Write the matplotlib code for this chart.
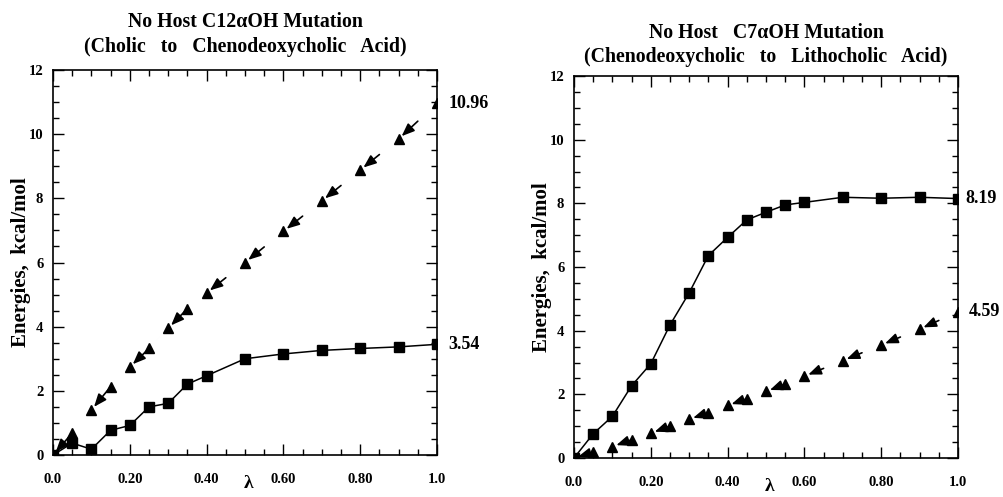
import numpy as np
import matplotlib.pyplot as plt
from matplotlib.ticker import MultipleLocator, FixedLocator

plt.rcParams['font.family'] = ['Liberation Serif', 'DejaVu Serif']
plt.rcParams['font.weight'] = 'bold'

# left panel: C12aOH mutation
lam_sq_left = [0.0, 0.05, 0.10, 0.15, 0.20, 0.25, 0.30, 0.35, 0.40, 0.50, 0.60, 0.70, 0.80, 0.90, 1.0]
sq_left = [0.0, 0.37, 0.18, 0.77, 0.92, 1.50, 1.61, 2.21, 2.47, 3.00, 3.15, 3.26, 3.32, 3.37, 3.45]
lam_tri_left = [0.0, 0.05, 0.10, 0.15, 0.20, 0.25, 0.30, 0.35, 0.40, 0.50, 0.60, 0.70, 0.80, 0.90, 1.0]
tri_left = [0.0, 0.68, 1.40, 2.13, 2.74, 3.32, 3.95, 4.56, 5.05, 6.00, 6.97, 7.92, 8.88, 9.85, 10.96]

# right panel: C7aOH mutation
lam_sq_right = [0.0, 0.05, 0.10, 0.15, 0.20, 0.25, 0.30, 0.35, 0.40, 0.45, 0.50, 0.55, 0.60, 0.70, 0.80, 0.90, 1.0]
sq_right = [0.0, 0.76, 1.31, 2.27, 2.96, 4.18, 5.19, 6.36, 6.93, 7.48, 7.72, 7.95, 8.03, 8.19, 8.16, 8.19, 8.15]
lam_tri_right = [0.0, 0.05, 0.10, 0.15, 0.20, 0.25, 0.30, 0.35, 0.40, 0.45, 0.50, 0.55, 0.60, 0.70, 0.80, 0.90, 1.0]
tri_right = [0.0, 0.18, 0.36, 0.57, 0.78, 1.00, 1.22, 1.42, 1.65, 1.86, 2.09, 2.32, 2.57, 3.06, 3.55, 4.05, 4.59]

titles = ["No Host C12\u03b1OH Mutation\n(Cholic   to   Chenodeoxycholic   Acid)",
          "No Host   C7\u03b1OH Mutation\n(Chenodeoxycholic   to   Lithocholic   Acid)"]
end_labels = [("10.96", "3.54"), ("4.59", "8.19")]

xtick_vals = [0.0, 0.2, 0.4, 0.6, 0.8, 1.0]
xtick_text = ["0.0", "0.20", "0.40", "0.60", "0.80", "1.0"]


def draw_arrows(ax, lam, vals):
    # dashed triangle curve: short arrows pointing back toward lower lambda
    for i in range(len(lam) - 1):
        x0, y0 = lam[i], vals[i]
        x1, y1 = lam[i + 1], vals[i + 1]
        step = x1 - x0
        if step < 0.075 and round(x0 / 0.05) % 2 == 1:
            continue
        frac = min(1.0, 0.05 / step)
        xs = x0 + frac * (x1 - x0)
        ys = y0 + frac * (y1 - y0)
        ax.annotate('', xy=(x0, y0), xytext=(xs, ys),
                    arrowprops=dict(arrowstyle='-|>,head_length=0.7,head_width=0.28',
                                    color='black', lw=1.2,
                                    mutation_scale=11, shrinkA=0, shrinkB=3))


fig = plt.figure(figsize=(10.04, 4.97), dpi=100)
ax1 = fig.add_axes([53 / 1004, 1 - 455 / 497, 384 / 1004, 385 / 497])
ax2 = fig.add_axes([574 / 1004, 1 - 458 / 497, 384 / 1004, 382 / 497])

data = [(ax1, lam_sq_left, sq_left, lam_tri_left, tri_left, -0.058, 13),
        (ax2, lam_sq_right, sq_right, lam_tri_right, tri_right, -0.056, 10)]

for k, (ax, ls, sv, lt, tv, ylab_x, tpad) in enumerate(data):
    ax.plot(ls, sv, '-', color='black', lw=1.1, marker='s', markersize=7, zorder=3)
    ax.plot(lt, tv, linestyle='none', color='black', marker='^', markersize=7, zorder=3)
    draw_arrows(ax, lt, tv)

    ax.set_xlim(0, 1.0)
    ax.set_ylim(0, 12)
    ax.xaxis.set_major_locator(FixedLocator(xtick_vals))
    ax.set_xticklabels(xtick_text)
    ax.xaxis.set_minor_locator(MultipleLocator(0.05))
    ax.yaxis.set_major_locator(MultipleLocator(2))
    ax.yaxis.set_minor_locator(MultipleLocator(0.5))
    ax.tick_params(which='both', direction='in', top=True, right=True, labelsize=10.5)
    ax.tick_params(which='major', length=8, width=1)
    ax.tick_params(which='minor', length=4.5, width=1)
    ax.tick_params(axis='x', pad=13)
    ax.tick_params(axis='y', pad=7)
    for s in ax.spines.values():
        s.set_linewidth(1.2)

    ax.set_title(titles[k], fontsize=14.3, fontweight='bold', pad=tpad, linespacing=1.3)
    ax.set_ylabel("Energies,  kcal/mol", fontsize=15, fontweight='bold')
    ax.yaxis.set_label_coords(ylab_x, 0.5)
    ax.text(0.51, -0.075, "\u03bb", transform=ax.transAxes, fontsize=14,
            fontweight='bold', ha='center', va='center')

    tri_lab, sq_lab = end_labels[k]
    sq_off = 8 if k == 0 else 5
    ax.annotate(tri_lab, xy=(1.0, tv[-1]), xytext=(8, 0), textcoords='offset points',
                fontsize=13, fontweight='bold', va='center', ha='left', annotation_clip=False)
    ax.annotate(sq_lab, xy=(1.0, sv[-1]), xytext=(sq_off, 0), textcoords='offset points',
                fontsize=13, fontweight='bold', va='center', ha='left', annotation_clip=False)

fig.savefig("out.png", dpi=100)
